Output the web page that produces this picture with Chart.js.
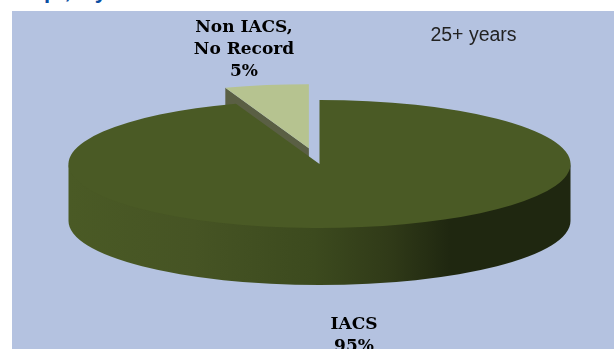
<!DOCTYPE html>
<html>
<head>
<meta charset="utf-8">
<style>
  html, body { margin: 0; background: #fff; overflow: hidden; }
  #heading { position: absolute; left: 44px; top: -22px; font: bold 22px "Liberation Sans"; letter-spacing: 7px; word-spacing: 4px; color: #0b4ea2; white-space: nowrap; }
  #panel { position: absolute; left: 12px; top: 11px; width: 602px; height: 338px; background: #b4c2e0; }
</style>
</head>
<body>
<div id="heading">p, y</div>
<div id="panel"><canvas id="ageChart" width="602" height="338"></canvas></div>
<script src="https://cdn.jsdelivr.net/npm/chart.js@4"></script>
<script>
const categories = ["IACS", "Non IACS, No Record"];
// slightly off the printed 95/5, the gap in the picture is about 19 degrees
const shares = [94.6, 5.4];
const sliceColors = ["#4a5a25", "#b6c390"];
const caption = "25+ years";

// squash the round pie into a tilted disc and give it some height
const tilt = 0.255;
const depth = 57;

const pie3d = {
  id: "pie3d",
  beforeDatasetsDraw(chart) {
    const { ctx } = chart;
    const [main, small] = chart.getDatasetMeta(0).data;
    const { x, y, outerRadius: r } = main;
    const ry = r * tilt;

    // a narrow arc with an offset gets bigger and thinner when drawn,
    // at a quarter turn the library leaves its size and angle alone
    small.circumference = Math.PI / 2;
    const shift = small.options.offset / 4;

    ctx.save();

    // cut face of the pulled out slice, mostly hidden by the big slice
    const mid = (small.startAngle + small.endAngle) / 2;
    const ax = x + Math.cos(mid) * shift;
    const ay = y + Math.sin(mid) * shift * tilt;
    const lx = ax + Math.cos(small.startAngle) * r;
    const ly = ay + Math.sin(small.startAngle) * ry;
    ctx.fillStyle = "#5a5f44";
    ctx.beginPath();
    ctx.moveTo(ax, ay);
    ctx.lineTo(lx, ly);
    ctx.lineTo(lx, ly + depth);
    ctx.lineTo(ax, ay + depth);
    ctx.closePath();
    ctx.fill();

    // front wall of the big slice, starts a bit under the top face so no seam shows
    const wall = ctx.createLinearGradient(x - r, 0, x + r, 0);
    wall.addColorStop(0, "#4a5a25");
    wall.addColorStop(0.25, "#465424");
    wall.addColorStop(0.49, "#3c4a1e");
    wall.addColorStop(0.64, "#303a18");
    wall.addColorStop(0.76, "#1f2710");
    wall.addColorStop(1, "#1f2710");
    ctx.fillStyle = wall;
    ctx.beginPath();
    ctx.ellipse(x, y - 2, r, ry, 0, 0, Math.PI);
    ctx.ellipse(x, y + depth, r, ry, 0, Math.PI, 0, true);
    ctx.closePath();
    ctx.fill();

    ctx.restore();

    // top faces are drawn by the library inside this transform
    ctx.save();
    ctx.translate(x, y);
    ctx.scale(1, tilt);
    ctx.translate(-x, -y);
  },
  afterDatasetsDraw(chart) {
    chart.ctx.restore();
  },
  afterDraw(chart) {
    const { ctx } = chart;
    ctx.save();
    ctx.textAlign = "center";
    ctx.textBaseline = "alphabetic";
    ctx.fillStyle = "#000";
    ctx.font = 'bold 17px "DejaVu Serif"';
    ctx.fillText("Non IACS,", 232, 21);
    ctx.fillText("No Record", 232, 43);
    ctx.fillText(Math.round(shares[1]) + "%", 232, 65);
    ctx.fillText(categories[0], 342, 318);
    ctx.fillText(Math.round(shares[0]) + "%", 342, 340);
    ctx.fillStyle = "#222";
    ctx.font = '19.5px "Liberation Sans"';
    ctx.fillText(caption, 461.5, 30);
    ctx.restore();
  },
};

new Chart(document.getElementById("ageChart"), {
  type: "pie",
  data: {
    labels: categories,
    datasets: [
      {
        data: shares,
        backgroundColor: sliceColors,
        borderWidth: 0,
        offset: [0, 252],
        clip: false,
      },
    ],
  },
  options: {
    responsive: false,
    animation: false,
    radius: 251,
    layout: { padding: { left: 13, bottom: 32 } },
    plugins: { legend: { display: false }, tooltip: { enabled: false } },
  },
  plugins: [pie3d],
});
</script>
</body>
</html>
